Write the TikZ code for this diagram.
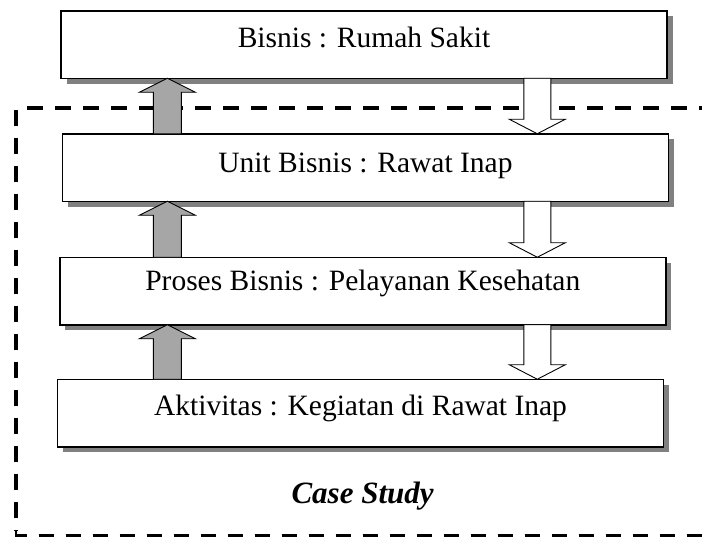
\documentclass[tikz,border=0pt]{standalone}
\usepackage{fontspec}
\setmainfont{Liberation Serif}
\usetikzlibrary{calc,shadows}
\definecolor{shadowgray}{HTML}{808080}
\definecolor{arrowgray}{HTML}{A6A6A6}
\tikzset{
  layerbox/.style={rectangle, draw=black, line width=1.5pt, fill=white,
    minimum width=606pt, minimum height=67.5pt, inner sep=0pt, outer sep=0pt,
    drop shadow={shadow xshift=5.5pt, shadow yshift=-5.5pt, fill=shadowgray, opacity=1}},
  uparr/.style={draw=black, line width=0.9pt, fill=arrowgray, line join=miter},
  downarr/.style={draw=black, line width=0.9pt, fill=white, line join=miter},
  scopeline/.style={line width=3.3pt, dash pattern=on 16pt off 12pt},
  boxtext/.style={font=\fontsize{29.5}{34}\selectfont, anchor=base, inner sep=0pt},
}
% arrow from the lower box up to the upper box
\newcommand\UpArr[2]{%
  \draw[uparr] ($(#1.north -| ux)+(-14,0)$) -- ($(#2.south -| ux)+(-14,14)$)
    -- ($(#2.south -| ux)+(-28,14)$) -- (#2.south -| ux)
    -- ($(#2.south -| ux)+(28,14)$) -- ($(#2.south -| ux)+(14,14)$)
    -- ($(#1.north -| ux)+(14,0)$) -- cycle;}
% arrow from the upper box down to the lower box
\newcommand\DownArr[2]{%
  \draw[downarr] ($(#1.south -| dx)+(-13.5,0)$) -- ($(#2.north -| dx)+(-13.5,-14.5)$)
    -- ($(#2.north -| dx)+(-28,-14.5)$) -- (#2.north -| dx)
    -- ($(#2.north -| dx)+(28,-14.5)$) -- ($(#2.north -| dx)+(13.5,-14.5)$)
    -- ($(#1.south -| dx)+(13.5,0)$) -- cycle;}
\begin{document}
\begin{tikzpicture}[x=1pt, y=-1pt]
  \useasboundingbox (0,0) rectangle (702,538);
  \clip (0,0) rectangle (702,538);

  % dashed case-study frame
  \draw[scopeline] (27,108) -- (710,108);
  \draw[scopeline] (16,110) -- (16,531);
  \draw[line width=2.4pt, dash pattern=on 15pt off 12pt] (16,531) -- (16,535.5) -- (710,535.5);

  % layers
  \node[layerbox] (b1) at (364,44.5) {};
  \node[layerbox] (b2) at (365.5,167.5) {};
  \node[layerbox] (b3) at (362.8,291) {};
  \node[layerbox] (b4) at (360.5,413) {};

  \node[boxtext] (t1) at (364,47) {Bisnis : Rumah Sakit};
  \node[boxtext] (t2) at (365.5,172) {Unit Bisnis : Rawat Inap};
  \node[boxtext] (t3) at (362.8,290) {Proses Bisnis : Pelayanan Kesehatan};
  \node[boxtext] (t4) at (360.5,415) {Aktivitas : Kegiatan di Rawat Inap};

  \coordinate (ux) at (167.3,0);
  \coordinate (dx) at (537.3,0);

  \UpArr{b2}{b1}
  \UpArr{b3}{b2}
  \UpArr{b4}{b3}
  \DownArr{b1}{b2}
  \DownArr{b2}{b3}
  \DownArr{b3}{b4}

  \node[font=\fontsize{31}{36}\selectfont\bfseries\itshape, anchor=base, inner sep=0pt]
    (cs) at (362.6,503) {Case Study};
\end{tikzpicture}
\end{document}
